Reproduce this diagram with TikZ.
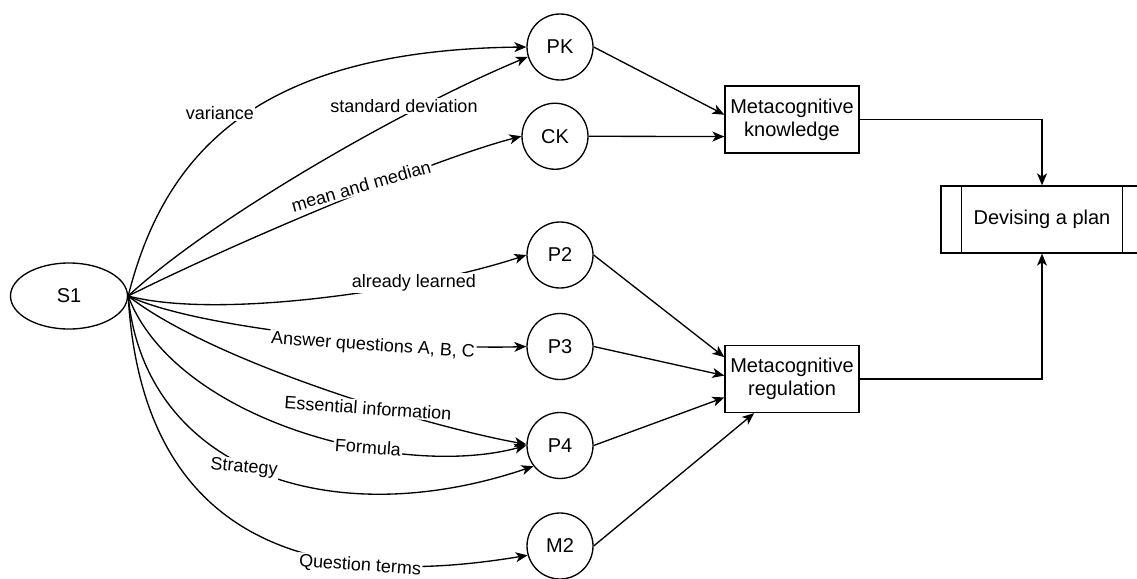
\documentclass[tikz,border=0pt]{standalone}
\usepackage{fontspec}
\setmainfont{Liberation Sans}
\usetikzlibrary{shapes.geometric,arrows.meta,calc}
\begin{document}
\begin{tikzpicture}[x=0.75pt,y=-0.75pt,
  nodefont/.style={font=\fontsize{15}{17.5}\selectfont},
  circ/.style={draw, circle, minimum size=49.5pt, inner sep=0pt, line width=1pt, nodefont},
  box/.style={draw, rectangle, minimum width=100.5pt, minimum height=50.25pt, align=center, inner sep=0pt, line width=1pt, nodefont},
  oval/.style={draw, ellipse, minimum width=87.75pt, minimum height=49.5pt, inner sep=0pt, line width=1pt, nodefont},
  procbox/.style={draw, rectangle, minimum width=151.5pt, minimum height=50.25pt, inner sep=0pt, line width=1pt, nodefont},
  arr/.style={-{Stealth[length=9pt,width=7.5pt,inset=2.5pt]}, line width=1pt},
  plain/.style={line width=1pt},
  lbl/.style={fill=white, inner sep=1pt, font=\fontsize{13.5}{16}\selectfont}
]
\useasboundingbox (0,0) rectangle (1137,578);
\clip (0,0) rectangle (1137,578);

% nodes
\node[oval] (S1) at (69,296) {S1};
\node[circ] (PK) at (560,47) {PK};
\node[circ] (CK) at (555,136.25) {CK};
\node[circ] (P2) at (560,255) {P2};
\node[circ] (P3) at (560,346.5) {P3};
\node[circ] (P4) at (560,445.5) {P4};
\node[circ] (M2) at (560,546) {M2};
\node[box] (MK) at (792,119.5) {Metacognitive\\knowledge};
\node[box] (MR) at (792,379) {Metacognitive\\regulation};
\node[procbox] (DP) at (1042,219.5) {Devising a plan};
\draw[plain] ([xshift=15.75pt]DP.north west) -- ([xshift=15.75pt]DP.south west);
\draw[plain] ([xshift=-15.75pt]DP.north east) -- ([xshift=-15.75pt]DP.south east);

% curved edges from S1
\draw[arr] (S1.east) .. controls (165,150) and (260,50) .. (PK.west);
\draw[arr] (S1.east) .. controls (210,220) and (400,110) .. (PK.197);
\draw[arr] (S1.east) .. controls (230,245) and (430,160) .. (CK.west);
\draw[arr] (S1.east) .. controls (220,320) and (420,290) .. (P2.west);
\draw[arr] (S1.east) .. controls (200,330) and (420,350) .. (P3.west);
\draw[arr] (S1.east) .. controls (210,360) and (420,425) .. (P4.178);
\draw[arr] (S1.east) .. controls (175,420) and (400,480) .. (P4.west);
\draw[arr] (S1.east) .. controls (145,470) and (330,535) .. (P4.218);
\draw[arr] (S1.east) .. controls (140,500) and (260,600) .. (M2.196);

% edge labels
\node[lbl] (Lvar) at (220,113) {variance};
\node[lbl] (Lsd) at (404,106) {standard deviation};
\node[lbl, rotate=16] (Lmm) at (361,186) {mean and median};
\node[lbl] (Lal) at (414,283) {already learned};
\node[lbl, rotate=-4] (Lans) at (373,346) {Answer questions A, B, C};
\node[lbl, rotate=-4] (Less) at (368,408) {Essential information};
\node[lbl, rotate=-4] (Lfor) at (368,447) {Formula};
\node[lbl, rotate=-5] (Lstr) at (244,468) {Strategy};
\node[lbl, rotate=-4] (Lqt) at (360,566) {Question terms};

% edges to metacognitive boxes
\draw[arr] (PK.east) -- ($(MK.north west)!0.43!(MK.south west)$);
\draw[arr] (CK.east) -- ($(MK.north west)!0.75!(MK.south west)$);
\draw[arr] (P2.east) -- ($(MR.north west)!0.18!(MR.south west)$);
\draw[arr] (P3.east) -- ($(MR.north west)!0.45!(MR.south west)$);
\draw[arr] (P4.east) -- ($(MR.north west)!0.77!(MR.south west)$);
\draw[arr] (M2.east) -- ($(MR.south west)!0.22!(MR.south east)$);

% to devising a plan
\draw[arr] (MK.east) -| (DP.north);
\draw[arr] (MR.east) -| (DP.south);
\end{tikzpicture}
\end{document}
